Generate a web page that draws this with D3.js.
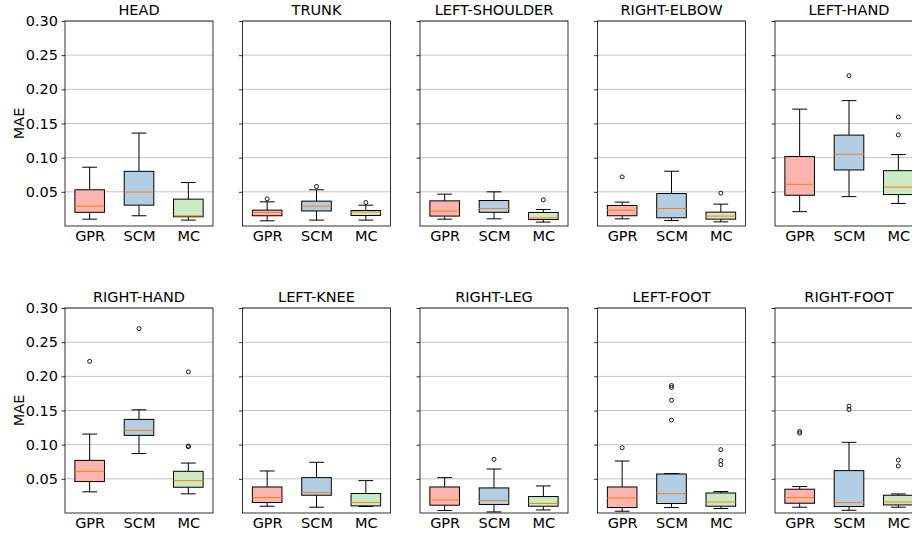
<!DOCTYPE html>
<html>
<head>
<meta charset="utf-8">
<script src="https://cdn.jsdelivr.net/npm/d3@7"></script>
<style>
  body { margin: 0; background: #fff; }
  svg text { font-family: "DejaVu Sans", sans-serif; fill: #000; }
</style>
</head>
<body>
<div id="canvas"></div>
<script>
// joints, in panel order (row by row)
const joints = ["HEAD", "TRUNK", "LEFT-SHOULDER", "RIGHT-ELBOW", "LEFT-HAND",
                "RIGHT-HAND", "LEFT-KNEE", "RIGHT-LEG", "LEFT-FOOT", "RIGHT-FOOT"];
const methods = ["GPR", "SCM", "MC"];
const yTicks = [0.05, 0.10, 0.15, 0.20, 0.25, 0.30];

// per joint: [GPR, SCM, MC]
const whiskerLow = [
  [0.010, 0.015, 0.0086], [0.0076, 0.0086, 0.0086], [0.010, 0.0105, 0.0057],
  [0.0105, 0.0081, 0.0061], [0.021, 0.043, 0.033],
  [0.031, 0.087, 0.028], [0.0099, 0.0085, 0.0095], [0.0036, 0.0016, 0.0045],
  [0.0026, 0.008, 0.0066], [0.0085, 0.004, 0.0085]
];
const q1 = [
  [0.020, 0.0305, 0.0135], [0.015, 0.022, 0.0154], [0.0145, 0.020, 0.0095],
  [0.015, 0.012, 0.010], [0.045, 0.082, 0.046],
  [0.046, 0.1136, 0.0377], [0.0153, 0.026, 0.0104], [0.0114, 0.0124, 0.0099],
  [0.008, 0.0139, 0.0099], [0.0143, 0.0095, 0.0118]
];
const median = [
  [0.029, 0.0496, 0.0149], [0.0198, 0.029, 0.0203], [0.0218, 0.0256, 0.012],
  [0.0232, 0.0256, 0.0145], [0.061, 0.105, 0.057],
  [0.061, 0.121, 0.0474], [0.0226, 0.030, 0.0153], [0.0191, 0.0182, 0.0139],
  [0.0221, 0.0285, 0.0162], [0.0226, 0.0153, 0.0162]
];
const q3 = [
  [0.053, 0.080, 0.0393], [0.0232, 0.0364, 0.0227], [0.0368, 0.0373, 0.0198],
  [0.030, 0.0475, 0.0203], [0.1016, 0.133, 0.081],
  [0.077, 0.137, 0.061], [0.0381, 0.0518, 0.0285], [0.0381, 0.0367, 0.0241],
  [0.0381, 0.0571, 0.0293], [0.0348, 0.062, 0.026]
];
const whiskerHigh = [
  [0.086, 0.136, 0.0636], [0.0354, 0.053, 0.0305], [0.0466, 0.050, 0.0242],
  [0.0349, 0.0802, 0.032], [0.171, 0.1835, 0.1045],
  [0.1155, 0.151, 0.0731], [0.0615, 0.0742, 0.0474], [0.0518, 0.0644, 0.0396],
  [0.0761, 0.0577, 0.0314], [0.0387, 0.1034, 0.0279]
];
const fliers = [
  [[], [], []], [[0.0398], [0.0578], [0.0344]], [[], [], [0.0383]],
  [[0.0719], [], [0.0481]], [[], [0.220], [0.1596, 0.1333]],
  [[0.222], [0.2698], [0.2066, 0.098, 0.097]], [[], [], []], [[], [0.0785], []],
  [[0.0956], [0.1866, 0.1837, 0.1651, 0.1359], [0.0927, 0.0766, 0.0708]],
  [[0.1194, 0.1169], [0.1564, 0.1515], [0.0775, 0.0688]]
];

const colors = ["#fbb4ae", "#b3cde3", "#ccebc5"];

const W = 912, H = 536;
const panelW = 148, panelH = 205;
const colX = [65, 242.5, 420, 597.5, 775];
const rowY = [21, 308];

const svg = d3.select("#canvas").append("svg")
  .attr("width", W).attr("height", H);

const y = d3.scaleLinear().domain([0, 0.30]).range([panelH, 0]);
const x = d3.scaleLinear().domain([0.5, 3.5]).range([0, panelW]);
const boxW = x(1.3) - x(1.0);   // half width of a box
const capW = boxW / 2;

joints.forEach(function(name, i){
  const col = i % 5, row = Math.floor(i / 5);
  const g = svg.append("g")
    .attr("transform", "translate(" + colX[col] + "," + rowY[row] + ")");

  // grid
  g.selectAll(".grid").data(yTicks).enter().append("line")
    .attr("x1", 0).attr("x2", panelW)
    .attr("y1", d => y(d)).attr("y2", d => y(d))
    .attr("stroke", "#c4c4c4").attr("stroke-width", 1);

  // y axis
  const yAxis = d3.axisLeft(y).tickValues(yTicks).tickSize(3.5).tickPadding(3.5)
    .tickFormat(col === 0 ? d3.format(".2f") : "");
  const ya = g.append("g").call(yAxis);
  ya.select(".domain").remove();
  ya.selectAll("line").attr("stroke", "#000").attr("stroke-width", 0.8);
  ya.selectAll("text").style("font-size", "14.5px")
    .style("font-family", "DejaVu Sans, sans-serif");

  // x axis (labels only, no tick marks)
  const xAxis = d3.axisBottom(x).tickValues([1, 2, 3]).tickSize(0).tickPadding(5)
    .tickFormat((d, k) => methods[k]);
  const xa = g.append("g").attr("transform", "translate(0," + panelH + ")").call(xAxis);
  xa.select(".domain").remove();
  xa.selectAll("line").remove();
  xa.selectAll("text").style("font-size", "14.5px")
    .style("font-family", "DejaVu Sans, sans-serif");

  // boxes
  methods.forEach(function(m, k){
    const cx = x(k + 1);
    const lo = whiskerLow[i][k], a = q1[i][k], md = median[i][k],
          b = q3[i][k], hi = whiskerHigh[i][k];
    const bg = g.append("g");
    bg.append("line").attr("x1", cx).attr("x2", cx)
      .attr("y1", y(lo)).attr("y2", y(a))
      .attr("stroke", "#000").attr("stroke-width", 1);
    bg.append("line").attr("x1", cx).attr("x2", cx)
      .attr("y1", y(b)).attr("y2", y(hi))
      .attr("stroke", "#000").attr("stroke-width", 1);
    [lo, hi].forEach(function(v){
      bg.append("line").attr("x1", cx - capW).attr("x2", cx + capW)
        .attr("y1", y(v)).attr("y2", y(v))
        .attr("stroke", "#000").attr("stroke-width", 1);
    });
    bg.append("rect")
      .attr("x", cx - boxW).attr("width", 2 * boxW)
      .attr("y", y(b)).attr("height", y(a) - y(b))
      .attr("fill", colors[k]).attr("stroke", "#000").attr("stroke-width", 1);
    bg.append("line").attr("x1", cx - boxW).attr("x2", cx + boxW)
      .attr("y1", y(md)).attr("y2", y(md))
      .attr("stroke", "#ff7f0e").attr("stroke-width", 1);
    bg.selectAll("circle").data(fliers[i][k]).enter().append("circle")
      .attr("cx", cx).attr("cy", d => y(d)).attr("r", 2)
      .attr("fill", "none").attr("stroke", "#000").attr("stroke-width", 0.9);
  });

  // frame
  g.append("rect").attr("width", panelW).attr("height", panelH)
    .attr("fill", "none").attr("stroke", "#000").attr("stroke-width", 0.8);

  // title
  g.append("text").attr("x", panelW / 2).attr("y", -6)
    .attr("text-anchor", "middle").style("font-size", "14.5px").text(name);

  if (col === 0){
    g.append("text")
      .attr("transform", "translate(-41," + (panelH / 2) + ") rotate(-90)")
      .attr("text-anchor", "middle").style("font-size", "14.5px").text("MAE");
  }
});
</script>
</body>
</html>
